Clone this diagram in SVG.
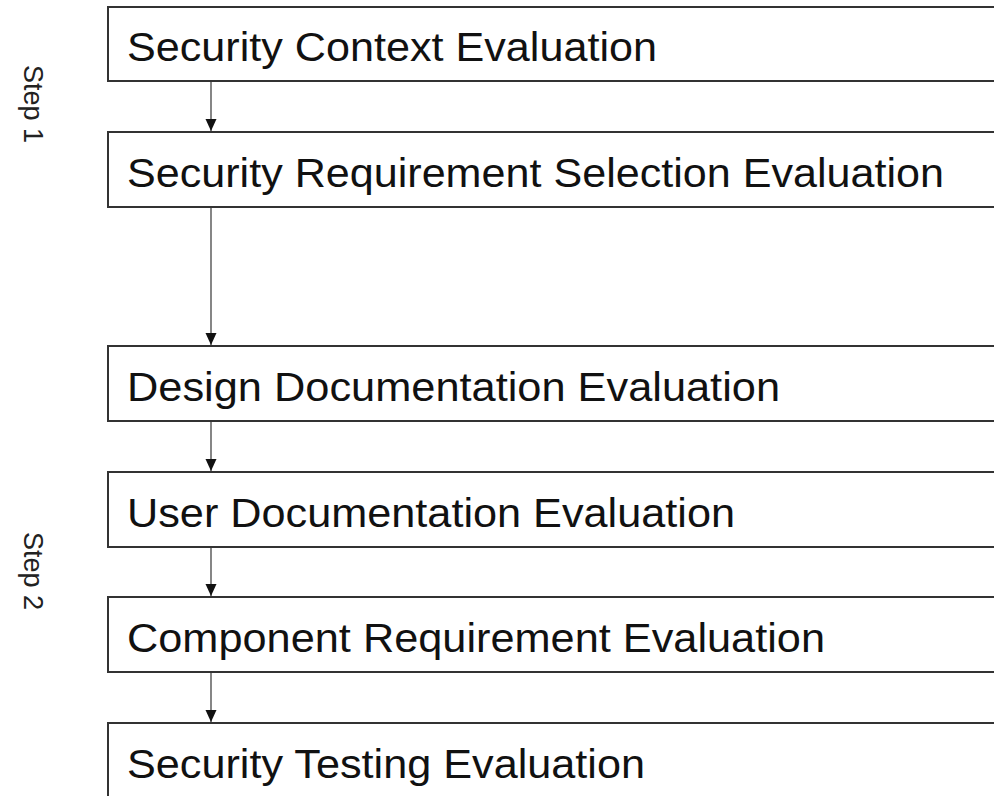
<svg xmlns="http://www.w3.org/2000/svg" width="994" height="796" viewBox="0 0 994 796">
<style>
.box{fill:#fff;stroke:#333;stroke-width:2}
.lbl{font-family:"Liberation Sans",Arial,sans-serif;font-size:40px;fill:#111}
.step{font-family:"Liberation Sans",Arial,sans-serif;font-size:27px;fill:#222;text-anchor:middle}
.conn{stroke:#444;stroke-width:1.3;fill:none;marker-end:url(#ah)}
</style>
<defs>
<marker id="ah" markerWidth="14" markerHeight="14" refX="12" refY="5.5" orient="auto" markerUnits="userSpaceOnUse">
<path d="M0,0 L12,5.5 L0,11 Z" fill="#111"/>
</marker>
</defs>
<rect width="994" height="796" fill="#fff"/>
<g id="step1"><text class="step" transform="translate(24,104) rotate(90)">Step 1</text></g>
<g id="step2"><text class="step" transform="translate(24,571) rotate(90)">Step 2</text></g>
<g id="n1"><rect class="box" x="108" y="7" width="900" height="74"/><text class="lbl" x="127" y="60.5" textLength="530" lengthAdjust="spacingAndGlyphs">Security Context Evaluation</text></g>
<g id="n2"><rect class="box" x="108" y="132" width="900" height="75"/><text class="lbl" x="127" y="186.5" textLength="817" lengthAdjust="spacingAndGlyphs">Security Requirement Selection Evaluation</text></g>
<g id="n3"><rect class="box" x="108" y="346" width="900" height="75"/><text class="lbl" x="127" y="400.5" textLength="653" lengthAdjust="spacingAndGlyphs">Design Documentation Evaluation</text></g>
<g id="n4"><rect class="box" x="108" y="472" width="900" height="75"/><text class="lbl" x="127" y="526.5" textLength="608" lengthAdjust="spacingAndGlyphs">User Documentation Evaluation</text></g>
<g id="n5"><rect class="box" x="108" y="597" width="900" height="75"/><text class="lbl" x="127" y="651.5" textLength="698" lengthAdjust="spacingAndGlyphs">Component Requirement Evaluation</text></g>
<g id="n6"><rect class="box" x="108" y="723" width="900" height="75"/><text class="lbl" x="127" y="777.5" textLength="518" lengthAdjust="spacingAndGlyphs">Security Testing Evaluation</text></g>
<g id="connectors">
<line class="conn" x1="211" y1="82" x2="211" y2="131"/>
<line class="conn" x1="211" y1="208" x2="211" y2="345"/>
<line class="conn" x1="211" y1="422" x2="211" y2="471"/>
<line class="conn" x1="211" y1="548" x2="211" y2="596"/>
<line class="conn" x1="211" y1="673" x2="211" y2="722"/>
</g>
</svg>
